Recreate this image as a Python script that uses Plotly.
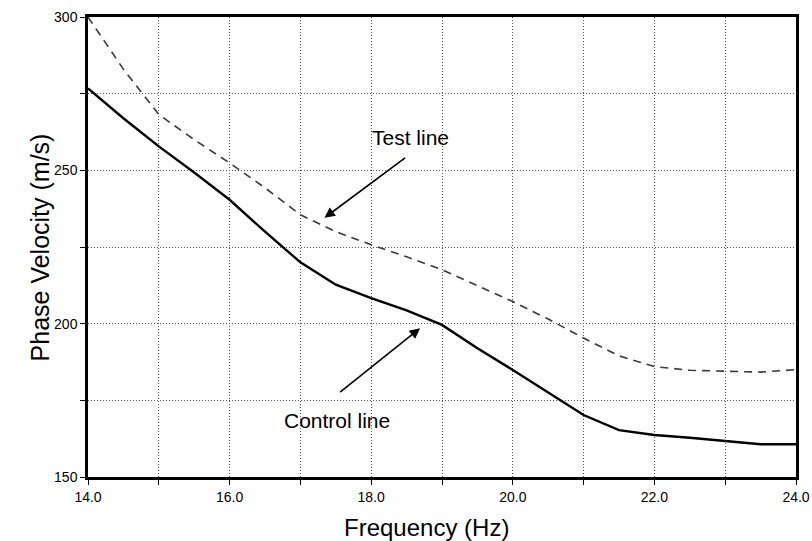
import plotly.graph_objects as go

freq = [14, 14.5, 15, 15.5, 16, 16.5, 17, 17.5, 18, 18.5, 19, 19.5,
        20, 20.5, 21, 21.5, 22, 22.5, 23, 23.5, 24]
control_line = [276.7, 267, 257.8, 249.3, 240.4, 230, 220, 212.7, 208.3, 204.3, 199.6, 192,
                184.9, 177.5, 170.2, 165.3, 163.7, 162.8, 161.8, 160.7, 160.7]
test_line = [300, 283, 268.2, 260, 252.4, 244.3, 235.5, 230, 225.7, 221.8, 217.6, 212.5,
             207.2, 201.5, 195.3, 189.5, 186, 184.8, 184.5, 184.2, 185]

x_tickvals = [14, 15, 16, 17, 18, 19, 20, 21, 22, 23, 24]
x_ticktext = ["14.0", "", "16.0", "", "18.0", "", "20.0", "", "22.0", "", "24.0"]
y_tickvals = [150, 175, 200, 225, 250, 275, 300]
y_ticktext = ["150", "", "200", "", "250", "", "300"]

FONT = "Liberation Sans, Arial, sans-serif"

fig = go.Figure()
fig.add_trace(go.Scatter(x=freq, y=test_line, mode="lines",
                         line=dict(color="#3a3a3a", width=1.6, dash="8px,6px"),
                         showlegend=False))
fig.add_trace(go.Scatter(x=freq, y=control_line, mode="lines",
                         line=dict(color="black", width=2.4),
                         showlegend=False))

# arrows
fig.add_annotation(x=17.34, y=234.5, ax=18.5, ay=254.4, xref="x", yref="y",
                   axref="x", ayref="y", showarrow=True, arrowhead=2,
                   arrowsize=1.3, arrowwidth=1.6, arrowcolor="black", text="")
fig.add_annotation(x=18.69, y=198.5, ax=17.54, ay=177.3, xref="x", yref="y",
                   axref="x", ayref="y", showarrow=True, arrowhead=2,
                   arrowsize=1.3, arrowwidth=1.6, arrowcolor="black", text="")
# labels
fig.add_annotation(x=18.55, y=260.6, text="Test line", showarrow=False,
                   font=dict(family=FONT, size=21, color="black"))
fig.add_annotation(x=17.52, y=168.4, text="Control line", showarrow=False,
                   font=dict(family=FONT, size=21, color="black"))
# axis titles
fig.add_annotation(x=0.478, y=0, xref="paper", yref="paper", yanchor="middle",
                   yshift=-50, text="Frequency (Hz)", showarrow=False,
                   font=dict(family=FONT, size=24, color="black"))
fig.add_annotation(x=-0.0898, y=0.5, xref="paper", yref="paper",
                   text="Phase Velocity (m/s)", textangle=-90, showarrow=False,
                   font=dict(family=FONT, size=25, color="black"))

axis_common = dict(showline=True, linecolor="black", linewidth=2.5, mirror=True,
                   showgrid=True, gridcolor="#555555", griddash="1px,2px", gridwidth=1,
                   ticks="outside", ticklen=5, tickcolor="black", tickwidth=1,
                   zeroline=False, tickfont=dict(family=FONT, size=14, color="black"))

fig.update_xaxes(range=[14, 24], tickmode="array", tickvals=x_tickvals,
                 ticktext=x_ticktext, **axis_common)
fig.update_yaxes(range=[150, 300], tickmode="array", tickvals=y_tickvals,
                 ticktext=y_ticktext, **axis_common)

fig.update_layout(width=812, height=541, plot_bgcolor="white", paper_bgcolor="white",
                  margin=dict(l=88, r=16, t=17, b=64, autoexpand=False))

fig.write_html("out.html", config={"displayModeBar": False},
               post_script="document.body.style.margin='0px';document.body.style.overflow='hidden';")
